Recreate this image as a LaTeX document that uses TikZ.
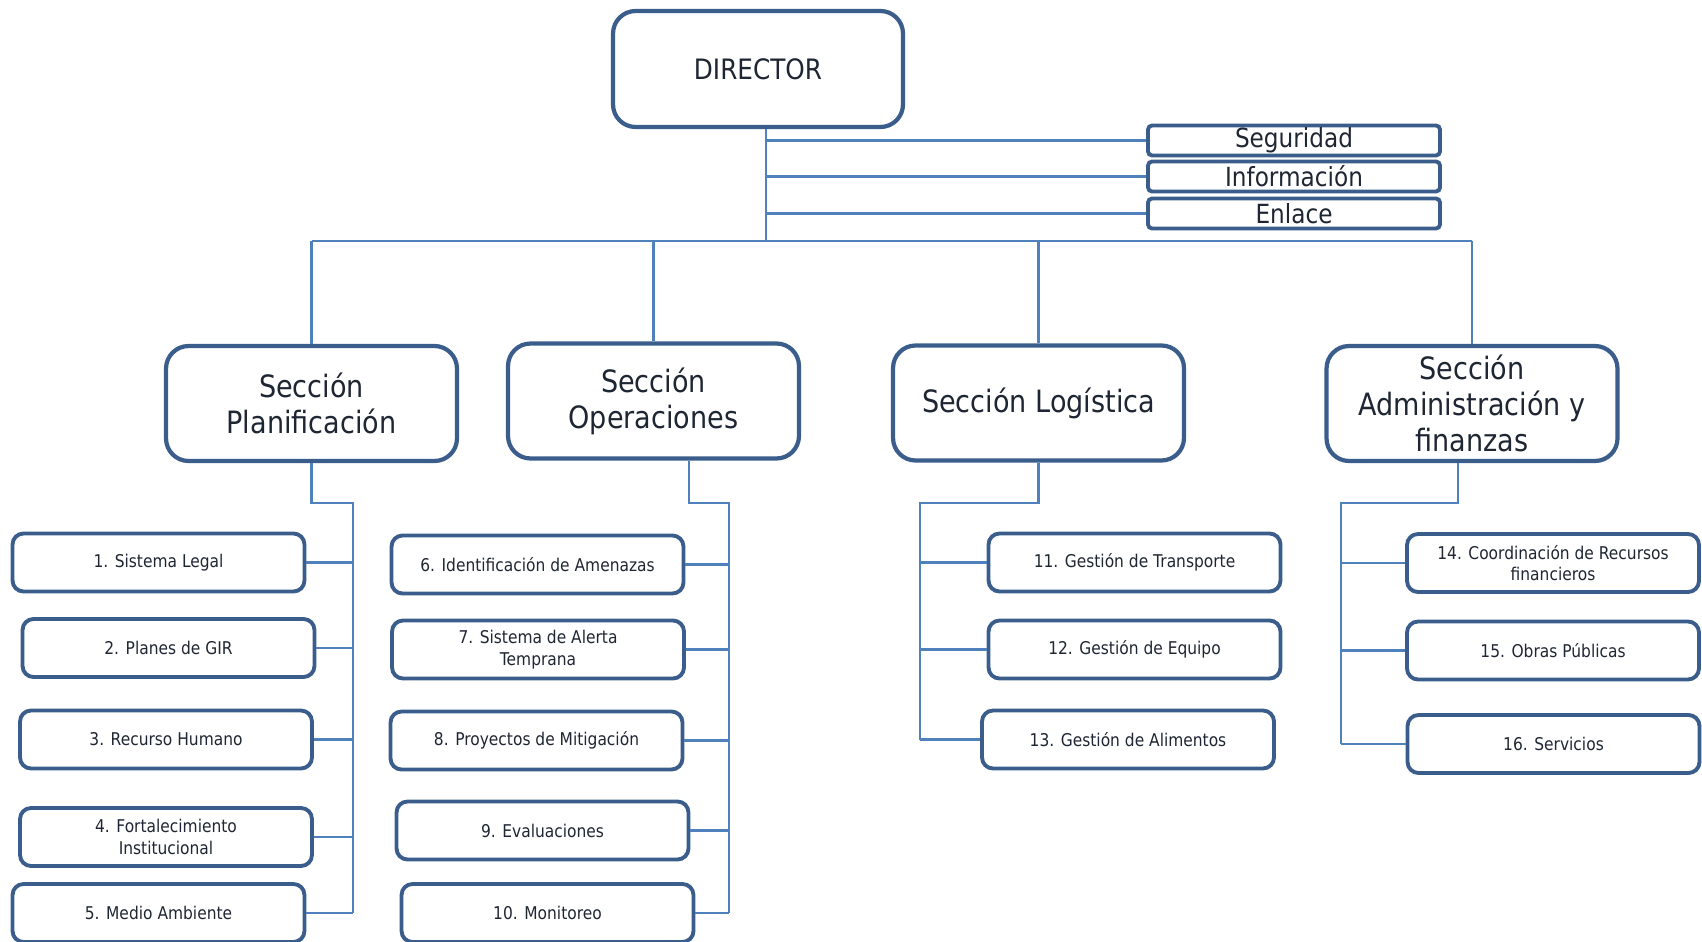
\documentclass[tikz,border=0pt]{standalone}
\usepackage{fontspec}
\setmainfont{DejaVu Sans}[FakeStretch=0.88]
\definecolor{boxBlue}{HTML}{3A5D8C}
\definecolor{wireBlue}{HTML}{4F81BD}
\definecolor{inkCol}{HTML}{1F2633}

\begin{document}
\begin{tikzpicture}[x=0.02cm, y=-0.02cm,
    dirStyle/.style={rectangle, draw=boxBlue, line width=2.4pt, rounded corners=0.45cm, text=inkCol, minimum width=5.8cm, minimum height=2.32cm, inner sep=0pt, font=\fontsize{16}{19}\selectfont},
    secStyle/.style={rectangle, draw=boxBlue, line width=2.4pt, rounded corners=0.45cm, text=inkCol, align=center, minimum width=5.82cm, minimum height=2.3cm, inner sep=0pt, font=\fontsize{17.5}{20.5}\selectfont},
    tagStyle/.style={rectangle, draw=boxBlue, line width=2.2pt, rounded corners=0.08cm, text=inkCol, minimum width=5.84cm, minimum height=0.6cm, inner sep=0pt, font=\fontsize{15}{16}\selectfont},
    subStyle/.style={rectangle, draw=boxBlue, line width=2.2pt, rounded corners=0.22cm, text=inkCol, align=center, minimum width=5.84cm, minimum height=1.16cm, inner sep=0pt, font=\fontsize{10}{12.3}\selectfont},
    wireStyle/.style={draw=wireBlue, line width=1.6pt}]
    \useasboundingbox (0,0) rectangle (1702,942);

    \node[dirStyle] (dir) at (758, 69) {DIRECTOR};

    \node[tagStyle] (tag_seg) at (1294, 140.5) {Seguridad};
    \node[tagStyle] (tag_inf) at (1294, 176.5) {Información};
    \node[tagStyle] (tag_enl) at (1294, 213.5) {Enlace};

    \node[secStyle] (sec_plan) at ( 311.5, 403.5) {Sección\\Planificación};
    \node[secStyle] (sec_oper) at ( 653.5, 401)   {Sección\\Operaciones};
    \node[secStyle] (sec_log)  at (1038.5, 403)   {Sección Logística};
    \node[secStyle] (sec_adm)  at (1472,   403.5) {Sección\\Administración y\\finanzas};

    \node[subStyle] (sub_1)  at (158.5, 562.5) {1. Sistema Legal};
    \node[subStyle] (sub_2)  at (168.5, 648)   {2. Planes de GIR};
    \node[subStyle] (sub_3)  at (166,   739.5) {3. Recurso Humano};
    \node[subStyle] (sub_4)  at (166,   837)   {4. Fortalecimiento\\Institucional};
    \node[subStyle] (sub_5)  at (158.5, 913)   {5. Medio Ambiente};

    \node[subStyle] (sub_6)  at (537.5, 564.5) {6. Identificación de Amenazas};
    \node[subStyle] (sub_7)  at (538,   649.5) {7. Sistema de Alerta\\Temprana};
    \node[subStyle] (sub_8)  at (536.5, 740.5) {8. Proyectos de Mitigación};
    \node[subStyle] (sub_9)  at (542.5, 830.5) {9. Evaluaciones};
    \node[subStyle] (sub_10) at (547.5, 913)   {10. Monitoreo};

    \node[subStyle] (sub_11) at (1134.5, 562.5) {11. Gestión de Transporte};
    \node[subStyle] (sub_12) at (1134.5, 649.5) {12. Gestión de Equipo};
    \node[subStyle] (sub_13) at (1128,   739.5) {13. Gestión de Alimentos};

    \node[subStyle] (sub_14) at (1553,   563)   {14. Coordinación de Recursos\\financieros};
    \node[subStyle] (sub_15) at (1553,   650.5) {15. Obras Públicas};
    \node[subStyle] (sub_16) at (1553.5, 744)   {16. Servicios};

    % director to sections
    \coordinate (bus_c) at (766, 241);
    \draw[wireStyle] (dir.south -| bus_c) -- (bus_c);
    \foreach \t in {tag_seg, tag_inf, tag_enl}
        \draw[wireStyle] (\t.west -| bus_c) -- (\t.west);
    \draw[wireStyle] (sec_plan.north |- bus_c) -- (sec_adm.north |- bus_c);
    \foreach \s in {sec_plan, sec_oper, sec_log, sec_adm}
        \draw[wireStyle] (\s.north |- bus_c) -- (\s.north);

    % planificacion
    \coordinate (plan_k) at (353, 503);
    \draw[wireStyle] (sec_plan.south) |- (plan_k) -- (plan_k |- sub_5.east);
    \foreach \i in {1,...,5}
        \draw[wireStyle] (sub_\i.east) -- (sub_\i.east -| plan_k);

    % operaciones
    \coordinate (oper_j) at (689, 503);
    \coordinate (oper_k) at (729, 503);
    \draw[wireStyle] (sec_oper.south -| oper_j) -- (oper_j) -- (oper_k) -- (oper_k |- sub_10.east);
    \foreach \i in {6,...,10}
        \draw[wireStyle] (sub_\i.east) -- (sub_\i.east -| oper_k);

    % logistica
    \coordinate (log_k) at (920, 503);
    \draw[wireStyle] (sec_log.south) |- (log_k) -- (log_k |- sub_13.west);
    \foreach \i in {11,...,13}
        \draw[wireStyle] (sub_\i.west) -- (sub_\i.west -| log_k);

    % administracion
    \coordinate (adm_j) at (1458, 503);
    \coordinate (adm_k) at (1341, 503);
    \draw[wireStyle] (sec_adm.south -| adm_j) -- (adm_j) -- (adm_k) -- (adm_k |- sub_16.west);
    \foreach \i in {14,...,16}
        \draw[wireStyle] (sub_\i.west) -- (sub_\i.west -| adm_k);
\end{tikzpicture}
\end{document}
